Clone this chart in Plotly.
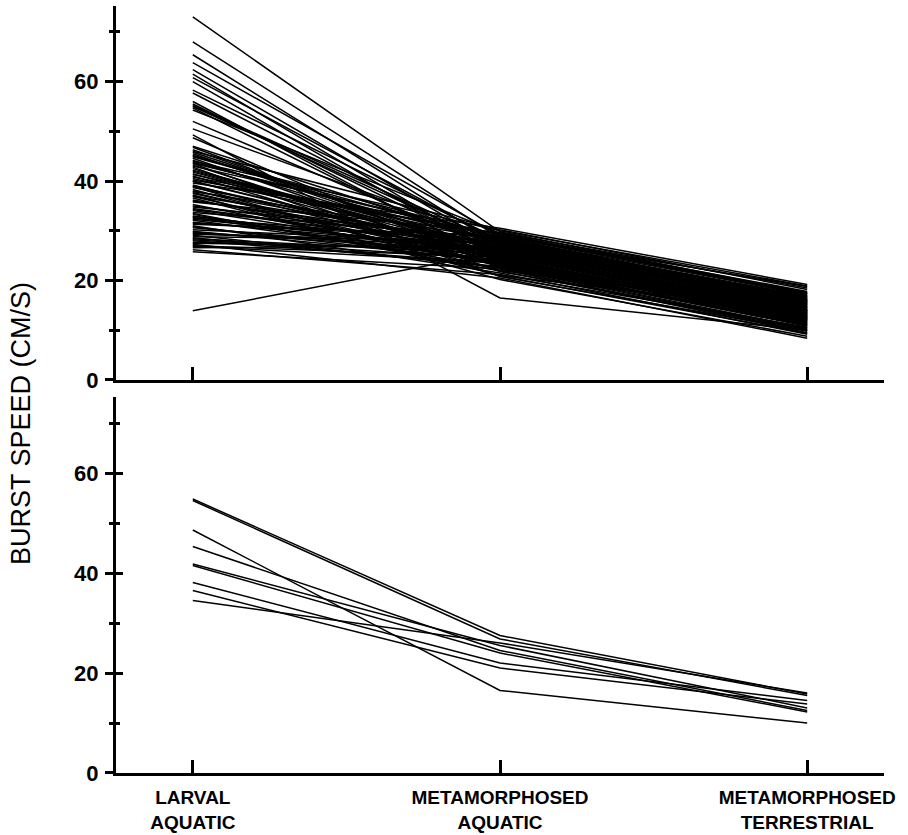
import plotly.graph_objects as go

categories = ["LARVAL<br>AQUATIC", "METAMORPHOSED<br>AQUATIC", "METAMORPHOSED<br>TERRESTRIAL"]

# Top panel: all individuals (larval aquatic, metamorphosed aquatic, metamorphosed terrestrial)
top_larval = [73.0, 68.0, 65.4, 63.8, 62.4, 61.5, 60.8, 60.0, 58.3, 57.7,
              56.0, 55.5, 55.2, 55.0, 54.7, 54.3, 52.0, 49.3, 48.7, 47.0,
              46.3, 46.0, 45.5, 45.2, 45.0, 44.6, 44.2, 43.8, 43.5, 43.0,
              42.5, 42.2, 41.8, 41.5, 41.3, 41.0, 40.5, 40.0, 39.6, 39.2,
              38.7, 38.3, 37.9, 37.5, 37.0, 36.6, 36.2, 35.8, 35.3, 35.0,
              34.5, 34.1, 33.7, 33.3, 32.9, 32.5, 32.1, 31.7, 31.3, 31.0,
              30.6, 30.2, 29.9, 29.5, 29.1, 28.8, 28.4, 28.0, 27.7, 27.3,
              27.0, 26.6, 26.2, 25.8, 13.9, 44.0, 42.8, 39.9, 38.0, 36.9,
              34.8, 33.0, 30.8, 29.3, 28.2, 40.8, 37.2, 32.3, 46.8, 50.5,
              45.8, 44.9, 43.2, 42.0, 40.2, 39.0, 37.7, 36.0, 34.3, 32.7,
              31.5, 29.7, 28.6, 27.5, 26.9, 33.5, 38.9, 43.6]
top_meta_aquatic = [29.8, 28.5, 27.0, 29.0, 26.5, 25.0, 27.8, 24.5, 28.2, 26.0,
                    23.5, 25.5, 27.5, 26.8, 24.0, 29.5, 25.8, 16.5, 22.5, 27.2,
                    24.8, 30.2, 24.5, 26.2, 28.8, 23.2, 25.2, 27.6, 21.8, 29.2,
                    24.2, 26.6, 25.5, 24.0, 28.0, 22.8, 27.0, 25.0, 30.5, 23.6,
                    26.4, 22.0, 28.4, 24.6, 27.3, 21.0, 25.8, 29.6, 23.0, 26.9,
                    26.0, 24.4, 28.6, 22.4, 25.6, 27.8, 23.8, 26.3, 29.0, 21.5,
                    25.1, 27.4, 24.1, 26.7, 22.6, 28.1, 25.3, 23.4, 26.1, 20.5,
                    24.7, 27.1, 21.2, 22.3, 25.8, 30.0, 20.8, 24.9, 26.5, 22.9,
                    28.3, 25.4, 23.7, 27.7, 24.3, 28.9, 20.2, 26.2, 23.9, 27.9,
                    25.6, 27.9, 23.9, 26.1, 29.4, 25.5, 23.3, 27.5, 25.9, 24.0,
                    28.2, 25.7, 22.8, 26.4, 23.6, 21.9, 20.9, 28.6]
top_meta_terrestrial = [17.5, 16.0, 15.2, 18.8, 14.0, 13.5, 16.5, 12.8, 15.8, 14.5,
                        12.0, 13.2, 15.8, 15.5, 13.0, 17.0, 12.5, 10.0, 11.5, 14.8,
                        13.6, 18.2, 12.5, 14.2, 16.2, 11.2, 13.8, 15.0, 10.5, 17.8,
                        12.2, 14.6, 13.0, 12.2, 16.8, 11.8, 15.4, 13.4, 19.2, 12.0,
                        14.0, 14.5, 16.0, 11.6, 15.6, 13.8, 13.1, 18.5, 10.8, 14.9,
                        16.0, 12.6, 17.2, 9.8, 13.9, 15.1, 11.9, 14.3, 17.6, 9.2,
                        12.9, 16.4, 11.4, 14.7, 10.2, 16.6, 13.3, 11.0, 15.3, 8.4,
                        12.4, 15.9, 10.6, 9.5, 14.0, 18.9, 9.9, 12.7, 13.7, 11.1,
                        16.9, 12.3, 10.9, 15.7, 12.1, 17.3, 8.8, 14.1, 13.2, 16.3,
                        13.9, 15.5, 12.6, 14.4, 17.4, 13.5, 11.3, 15.2, 14.6, 12.8,
                        16.7, 13.6, 10.4, 14.8, 11.7, 10.1, 9.4, 16.1]

# Bottom panel: subset of individuals
bot_larval = [54.8, 54.5, 48.6, 45.3, 41.8, 41.5, 38.1, 36.5, 34.5]
bot_meta_aquatic = [27.5, 26.8, 16.5, 24.5, 25.5, 24.0, 22.0, 21.0, 26.0]
bot_meta_terrestrial = [15.8, 15.5, 10.0, 12.5, 13.0, 12.2, 14.5, 13.8, 16.0]

y_ticks = [0, 20, 40, 60]
y_ticklabels = ["0", "20", "40", "60"]

FONT = "Liberation Sans, Arial, Helvetica, sans-serif"
xpos = list(range(len(categories)))

fig = go.Figure()

for a, b, c in zip(top_larval, top_meta_aquatic, top_meta_terrestrial):
    fig.add_trace(go.Scatter(x=xpos, y=[a, b, c], mode="lines",
                             line=dict(color="black", width=1.5),
                             xaxis="x", yaxis="y", showlegend=False, hoverinfo="skip"))
for a, b, c in zip(bot_larval, bot_meta_aquatic, bot_meta_terrestrial):
    fig.add_trace(go.Scatter(x=xpos, y=[a, b, c], mode="lines",
                             line=dict(color="black", width=1.5),
                             xaxis="x2", yaxis="y2", showlegend=False, hoverinfo="skip"))
# placeholder traces for overlay axes (inside tick halves)
fig.add_trace(go.Scatter(x=[None], y=[None], xaxis="x", yaxis="y3", showlegend=False))
fig.add_trace(go.Scatter(x=[None], y=[None], xaxis="x2", yaxis="y4", showlegend=False))

XR = [-0.25, 2.25]
YR = [0, 75.2]
top_dom = [0.5124, 1.0]
bot_dom = [0.0, 0.4902]

ytickfont = dict(family=FONT, size=22, color="black", weight="bold")
xtickfont = dict(family=FONT, size=19, color="black", weight="bold")

def yaxis_main(dom, anchor):
    return dict(domain=dom, anchor=anchor, range=YR, showgrid=False, zeroline=False,
                showline=True, linecolor="black", linewidth=3, automargin=False,
                ticks="outside", ticklen=8, tickwidth=2.5, tickcolor="black",
                tickvals=y_ticks, ticktext=y_ticklabels, tickfont=ytickfont,
                ticklabelstandoff=2,
                minor=dict(ticks="outside", ticklen=4, tickwidth=2.5, tickcolor="black", dtick=10, tick0=0))

def yaxis_overlay(over, anchor):
    return dict(overlaying=over, anchor=anchor, side="left", range=YR, showgrid=False,
                zeroline=False, showline=False, showticklabels=False, automargin=False,
                ticks="inside", ticklen=7, tickwidth=2.5, tickcolor="black",
                tickvals=y_ticks,
                minor=dict(ticks="inside", ticklen=4, tickwidth=2.5, tickcolor="black", dtick=10, tick0=0))

fig.update_layout(
    width=908, height=835,
    margin=dict(l=116, r=24, t=6, b=62),
    plot_bgcolor="white", paper_bgcolor="white",
    showlegend=False,
    xaxis=dict(domain=[0, 1], anchor="y", range=XR, showgrid=False, zeroline=False,
               showline=True, linecolor="black", linewidth=3, automargin=False,
               ticks="inside", ticklen=13, tickwidth=3, tickcolor="black",
               tickvals=xpos, showticklabels=False),
    xaxis2=dict(domain=[0, 1], anchor="y2", range=XR, showgrid=False, zeroline=False,
                showline=True, linecolor="black", linewidth=3, automargin=False,
                ticks="inside", ticklen=13, tickwidth=3, tickcolor="black",
                tickvals=xpos, ticktext=categories, tickfont=xtickfont,
                ticklabelstandoff=5),
    yaxis=yaxis_main(top_dom, "x"),
    yaxis2=yaxis_main(bot_dom, "x2"),
    yaxis3=yaxis_overlay("y", "x"),
    yaxis4=yaxis_overlay("y2", "x2"),
    annotations=[dict(text="BURST SPEED (CM/S)", xref="paper", yref="paper",
                      x=-0.124, y=0.456, xanchor="center", yanchor="middle",
                      textangle=-90, showarrow=False,
                      font=dict(family=FONT, size=27, color="black"))],
)

fig.write_html("out.html", config={"displayModeBar": False},
               post_script="document.body.style.margin='0px';document.body.style.overflow='hidden';")
